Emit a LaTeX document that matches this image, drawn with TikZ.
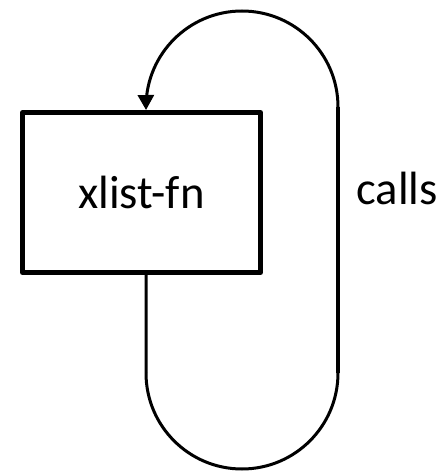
\documentclass[tikz,border=0pt]{standalone}
\usepackage{fontspec}
\setmainfont{Carlito}
\usetikzlibrary{arrows.meta, positioning}

\begin{document}
\begin{tikzpicture}[
    x=0.75pt, y=0.75pt,
    fnbox/.style={
        rectangle, draw=black, line width=3.75pt, line join=round,
        minimum width=178.5pt, minimum height=120pt,
        inner sep=0pt, font=\fontsize{35}{42}\selectfont
    },
    leg/.style={draw=black, line width=2.25pt},
    thickleg/.style={draw=black, line width=3.4pt},
    callarr/.style={-{Triangle[length=11.25pt, width=12pt]}, line width=2.25pt},
    lbl/.style={font=\fontsize{35}{42}\selectfont, anchor=base}
]
\useasboundingbox (0,0) rectangle (448,472);

% the function box
\node[fnbox] (fn) at (141.5,279.5) {xlist-fn};

% loop corners
\coordinate (lb) at (146,99);
\coordinate (rb) at (338,99);
\coordinate (rt) at (338,365);

% leave the box, go round the bottom and back up the right side
\draw[leg] ([xshift=3.4pt]fn.south) -- (lb);
\draw[leg] (lb) arc[start angle=180, end angle=360, radius=96];
\draw[thickleg] (rb) -- (rt);

% over the top and back into the box
\draw[callarr] (rt) arc[start angle=0, end angle=180, radius=96]
    -- ([xshift=3.4pt]fn.north);

\node[lbl] (calls) at (397,267) {calls};

\end{tikzpicture}
\end{document}
